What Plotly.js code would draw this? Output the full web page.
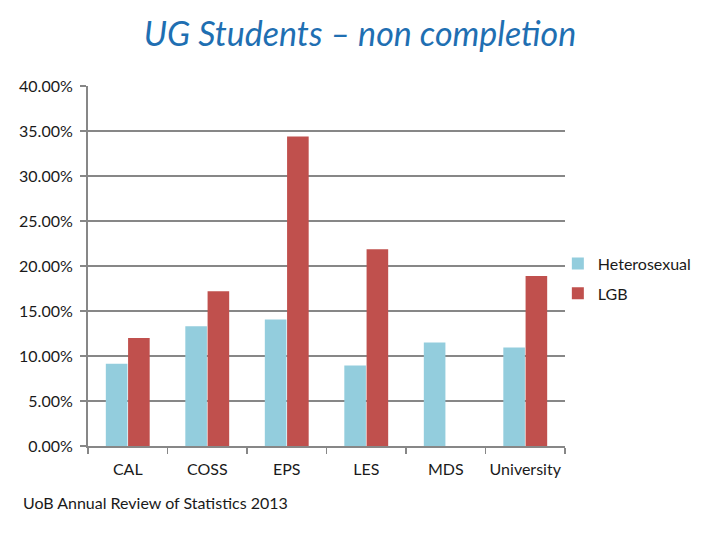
<!DOCTYPE html>
<html>
<head>
<meta charset="utf-8">
<script src="https://cdn.plot.ly/plotly-3.0.1.min.js"></script>
<style>
  body { margin:0; background:#ffffff; }
  #myDiv { width:720px; height:540px; }
</style>
</head>
<body>
<div id="myDiv"></div>
<script>
// UG non completion by college, 2013
let categories=['CAL','COSS','EPS','LES','MDS','University'];
let hetero_vals=[0.0913,0.133,0.1405,0.0895,0.115,0.1095];
let lgb_vals=[0.120,0.172,0.344,0.2185,0,0.189];
let ytick_vals=[0,0.05,0.10,0.15,0.20,0.25,0.30,0.35,0.40];

let font_family='Lato, "Open Sans", "Liberation Sans", sans-serif';
let grid_color='#878787';

let traceHetero = { x: categories,
                    y: hetero_vals,
                    name: 'Heterosexual',
                    legendgroup: 'h',
                    type: 'bar',
                    marker: { color: '#93cddd' },
                    hoverinfo: 'x+y' };

let traceLGB = { x: categories,
                 y: lgb_vals,
                 name: 'LGB',
                 legendgroup: 'l',
                 type: 'bar',
                 marker: { color: '#c0504d' },
                 hoverinfo: 'x+y' };

let data = [traceHetero, traceLGB];

let layout = {
  width: 720,
  height: 540,
  paper_bgcolor: '#ffffff',
  plot_bgcolor: '#ffffff',
  font: { family: font_family, size: 16, color: '#1a1a1a' },
  title: { text: '<i>UG Students – non completion</i>',
           font: { family: font_family, size: 34, color: '#1f6fb2' },
           x: 0.5, xanchor: 'center', y: 0.937, yanchor: 'middle' },
  margin: { l:88, r:155, t:86, b:94 },
  barmode: 'group',
  bargap: 0.44,
  bargroupgap: 0.03,
  showlegend: true,
  legend: { x: 0.985, xanchor: 'left', y: 0.465, yanchor: 'middle',
            traceorder: 'grouped', tracegroupgap: 6,
            font: { family: font_family, size: 16, color: '#1a1a1a' },
            bgcolor: 'rgba(0,0,0,0)' },
  yaxis: {
    range: [0, 0.40],
    tickvals: ytick_vals,
    tickformat: '.2%',
    showgrid: true,
    gridcolor: grid_color,
    gridwidth: 2,
    zeroline: false,
    showline: true,
    linecolor: grid_color,
    linewidth: 2,
    ticks: 'outside',
    ticklen: 6,
    tickwidth: 1.5,
    tickcolor: grid_color,
    ticklabelstandoff: 4,
    fixedrange: true },
  xaxis: {
    type: 'category',
    tickangle: 0,
    showgrid: false,
    zeroline: false,
    showline: true,
    linecolor: grid_color,
    linewidth: 2,
    ticks: 'outside',
    tickson: 'boundaries',
    ticklen: 6,
    tickwidth: 1.5,
    tickcolor: grid_color,
    ticklabelstandoff: 8,
    fixedrange: true },
  annotations: [{
    text: 'UoB Annual Review of Statistics 2013',
    xref: 'paper', yref: 'paper',
    x: -0.14, xanchor: 'left',
    y: -0.158, yanchor: 'middle',
    showarrow: false,
    font: { family: font_family, size: 16, color: '#1a1a1a' }
  }]
};

let config = { displayModeBar: false, staticPlot: true };

Plotly.newPlot('myDiv', data, layout, config);
</script>
</body>
</html>
